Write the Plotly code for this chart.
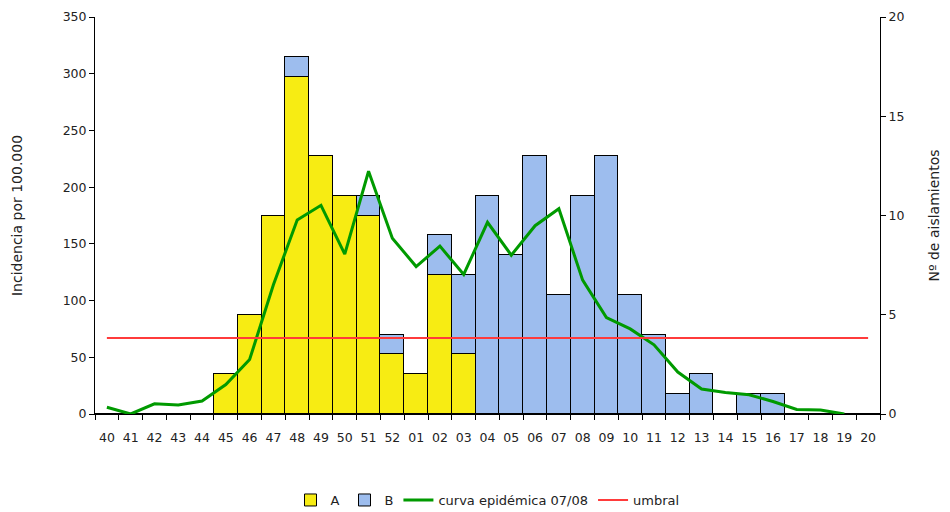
import plotly.graph_objects as go

weeks = ["40","41","42","43","44","45","46","47","48","49","50","51","52",
         "01","02","03","04","05","06","07","08","09","10","11","12","13",
         "14","15","16","17","18","19","20"]
serie_a = [0,0,0,0,0,2,5,10,17,13,11,10,3,2,7,3,0,0,0,0,0,0,0,0,0,0,0,0,0,0,0,0,0]
serie_b = [0,0,0,0,0,0,0,0,1,0,0,1,1,0,2,4,11,8,13,6,11,13,6,4,1,2,0,1,1,0,0,0,0]
curva = [6,0,9,8,11.5,26,48,114,171,184,141,214,155,130,148,123,169,140,166,181,
         118,85,75,61,37,22,19,17,11,4,3.5,0,None]
umbral = [67]*33

font_family = "'DejaVu Sans', sans-serif"
fig = go.Figure()
fig.add_trace(go.Bar(x=weeks, y=serie_a, name="A", yaxis="y",
                     marker=dict(color="#F7EC13", line=dict(color="black", width=1))))
fig.add_trace(go.Bar(x=weeks, y=serie_b, name="B", yaxis="y",
                     marker=dict(color="#9DBDEE", line=dict(color="black", width=1))))
fig.add_trace(go.Scatter(x=weeks, y=curva, name="curva epidémica 07/08", mode="lines",
                         yaxis="y2", line=dict(color="#009A00", width=3)))
fig.add_trace(go.Scatter(x=weeks, y=umbral, name="umbral", mode="lines",
                         yaxis="y2", line=dict(color="#FF3B3B", width=2)))

fig.update_layout(
    width=950, height=512, barmode="stack", bargap=0,
    plot_bgcolor="white", paper_bgcolor="white",
    margin=dict(l=87, r=78, t=9, b=106),
    font=dict(family=font_family, size=12.5, color="#222"),
    xaxis=dict(type="category", range=[-0.5, 32.5], showline=True, linecolor="black",
               ticks="outside", tickson="boundaries", ticklen=5, tickcolor="black",
               showgrid=False, tickangle=0, automargin=False, ticklabelstandoff=12),
    yaxis=dict(range=[0, 20], dtick=5, side="right", showline=True,
               linecolor="black", ticks="outside", ticklen=5, tickcolor="black",
               showgrid=False, zeroline=False, automargin=False,
               title=dict(text="Nº de aislamientos", standoff=25, font=dict(size=14))),
    yaxis2=dict(range=[0, 350], dtick=50, side="left", overlaying="y", showline=True,
                linecolor="black", ticks="outside", ticklen=5, tickcolor="black",
                showgrid=False, zeroline=False, automargin=False,
                title=dict(text="Incidencia por 100.000", standoff=36, font=dict(size=14))),
    legend=dict(orientation="h", x=0.5, xanchor="center", xref="paper",
                y=0.039, yanchor="middle", yref="container",
                font=dict(size=13), traceorder="normal"),
)
fig.write_html("out.html")
